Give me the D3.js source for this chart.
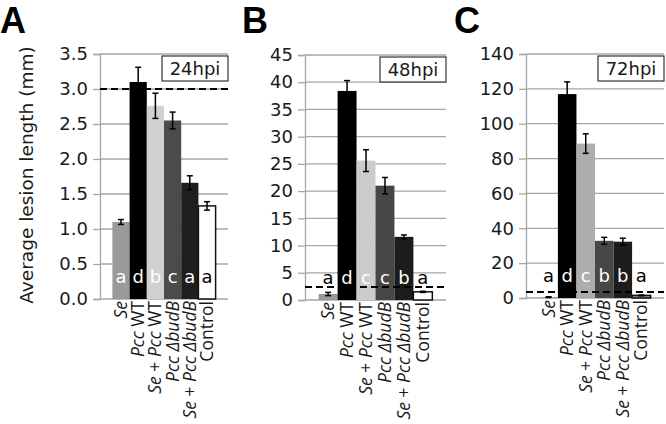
<!DOCTYPE html>
<html><head><meta charset="utf-8">
<script src="https://cdn.jsdelivr.net/npm/d3@7"></script>
<style>body{margin:0;background:#fff}svg{display:block;font-family:"DejaVu Sans",sans-serif}</style>
</head><body><svg id="c" width="666" height="424"></svg>
<script>
const categories = ["Se","Pcc WT","Se + Pcc WT","Pcc ΔbudB","Se + Pcc ΔbudB","Control"];
const labelParts = [
  [["Se",1]],
  [["Pcc",1],[" WT",0]],
  [["Se",1],[" + ",0],["Pcc",1],[" WT",0]],
  [["Pcc ΔbudB",1]],
  [["Se",1],[" + ",0],["Pcc ΔbudB",1]],
  [["Control",0]]
];
const panelLetters = ["A","B","C"];
const timeLabels = ["24hpi","48hpi","72hpi"];
const valuesA = [1.10, 3.10, 2.76, 2.55, 1.66, 1.33];
const errorsA = [0.035, 0.21, 0.18, 0.12, 0.10, 0.06];
const lettersA = ["a","d","b","c","a","a"];
const valuesB = [1.1, 38.4, 25.6, 21.0, 11.6, 1.5];
const errorsB = [0.3, 1.9, 2.0, 1.5, 0.35, 0.1];
const lettersB = ["a","d","c","c","b","a"];
const valuesC = [0.5, 117.0, 88.6, 32.8, 32.3, 1.5];
const errorsC = [0.2, 7.0, 5.6, 2.0, 2.0, 0.2];
const lettersC = ["a","d","c","b","b","a"];
const thresholds = [3.0, 2.4, 3.5];
const yMax = [3.5, 45, 140];
const yStep = [0.5, 5, 20];
const tickFormats = [".1f", "d", "d"];

const fillsA = ["#9a9a9a","#000000","#d0d0d0","#4b4b4b","#1e1e1e","#ffffff"];
const fillsB = ["#999999","#000000","#cccccc","#474747","#1c1c1c","#ffffff"];
const fillsC = ["#999999","#000000","#adadad","#474747","#1c1c1c","#8a8a8a"];
const letterColA = ["#fff","#fff","#fff","#fff","#fff","#000"];
const letterColB = ["#000","#fff","#fff","#fff","#fff","#000"];
const letterColC = ["#000","#fff","#fff","#fff","#fff","#000"];

const layout = [
  {left:100, right:228, top:54, bottom:299, lx:0, ly:33},
  {left:305, right:446, top:55, bottom:300, lx:242, ly:33},
  {left:526, right:664, top:54, bottom:298, lx:454, ly:33}
];
const panels = [
  {v:valuesA,e:errorsA,l:lettersA,f:fillsA,lc:letterColA},
  {v:valuesB,e:errorsB,l:lettersB,f:fillsB,lc:letterColB},
  {v:valuesC,e:errorsC,l:lettersC,f:fillsC,lc:letterColC}
];
const svg = d3.select("#c");
const grid = "#a6a6a6";
const FONT = "'DejaVu Sans',sans-serif";
const LFONT = "'Open Sans',sans-serif";

panels.forEach((p,i)=>{
  const L = layout[i];
  const g = svg.append("g");
  const y = d3.scaleLinear().domain([0,yMax[i]]).range([L.bottom,L.top]);
  const x = d3.scaleBand().domain(categories).range([L.left,L.right]).paddingInner(0).paddingOuter(0.72);
  const ticks = d3.range(0, yMax[i]+yStep[i]/2, yStep[i]);
  g.selectAll("line.grid").data(ticks).join("line")
    .attr("x1",L.left).attr("x2",L.right).attr("y1",d=>y(d)).attr("y2",d=>y(d))
    .attr("stroke",grid).attr("stroke-width",1.3);
  const ax = g.append("g").attr("transform",`translate(${L.left},0)`)
    .call(d3.axisLeft(y).tickValues(ticks).tickFormat(d3.format(tickFormats[i])).tickSize(7).tickPadding(5));
  ax.select(".domain").attr("stroke",grid).attr("stroke-width",1.3);
  ax.selectAll(".tick line").attr("stroke",grid).attr("stroke-width",1.3);
  ax.selectAll(".tick text").attr("font-size",18).attr("fill","#1a1a1a").attr("font-family",FONT);
  g.selectAll("rect.bar").data(categories).join("rect")
    .attr("x",d=>x(d)).attr("width",x.bandwidth())
    .attr("y",(d,j)=>y(p.v[j])).attr("height",(d,j)=>L.bottom-y(p.v[j]))
    .attr("fill",(d,j)=>p.f[j])
    .attr("stroke",(d,j)=>j===5?"#111":"none").attr("stroke-width",1.5);
  categories.forEach((c,j)=>{
    const cx = x(c)+x.bandwidth()/2;
    const y1 = y(p.v[j]+p.e[j]), y0 = y(Math.max(0,p.v[j]-p.e[j]));
    g.append("line").attr("x1",cx).attr("x2",cx).attr("y1",y1).attr("y2",y0).attr("stroke","#000").attr("stroke-width",1.5);
    [y1,y0].forEach(yy=>g.append("line").attr("x1",cx-3).attr("x2",cx+3).attr("y1",yy).attr("y2",yy).attr("stroke","#000").attr("stroke-width",1.5));
  });
  g.append("line").attr("x1",L.left).attr("x2",L.right)
    .attr("y1",y(thresholds[i])).attr("y2",y(thresholds[i]))
    .attr("stroke","#000").attr("stroke-width",2).attr("stroke-dasharray","7,4");
  g.selectAll("text.let").data(categories).join("text")
    .attr("x",d=>x(d)+x.bandwidth()/2).attr("y",L.bottom-16)
    .attr("text-anchor","middle").attr("font-size",18)
    .attr("fill",(d,j)=>p.lc[j]).text((d,j)=>p.l[j]);
  categories.forEach((c,j)=>{
    const cx = x(c)+x.bandwidth()/2;
    const t = g.append("text").attr("transform",`translate(${cx+6},${L.bottom+2}) rotate(-90)`)
      .attr("text-anchor","end").attr("font-size",17.5).attr("font-family",LFONT).attr("fill","#1a1a1a");
    labelParts[j].forEach(pt=>t.append("tspan").attr("font-style",pt[1]?"italic":"normal").attr("xml:space","preserve").text(pt[0]));
  });
  const bw = 66, bh = 25;
  g.append("rect").attr("x",L.right-bw).attr("y",L.top+2).attr("width",bw).attr("height",bh)
    .attr("fill","#fff").attr("stroke","#333").attr("stroke-width",1.2);
  g.append("text").attr("x",L.right-bw/2).attr("y",L.top+2+bh/2+6.5).attr("text-anchor","middle")
    .attr("font-size",18).attr("fill","#1a1a1a").text(timeLabels[i]);
  svg.append("text").attr("x",L.lx).attr("y",L.ly).attr("font-size",36).attr("font-weight","bold")
    .attr("font-family","'Liberation Sans',Arial,sans-serif").attr("fill","#000").text(panelLetters[i]);
});
svg.append("text").attr("transform","translate(33,175) rotate(-90)").attr("text-anchor","middle")
  .attr("font-size",18.5).attr("fill","#1a1a1a").text("Average lesion length (mm)");
</script></body></html>
